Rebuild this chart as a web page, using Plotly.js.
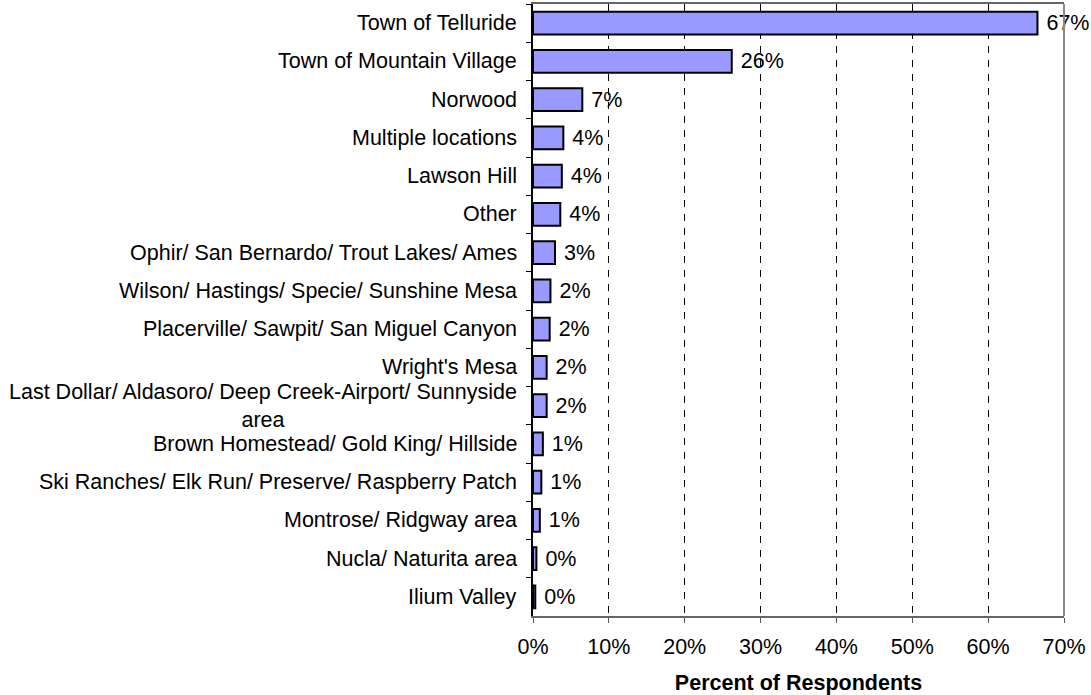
<!DOCTYPE html>
<html>
<head>
<meta charset="utf-8">
<script src="https://cdn.plot.ly/plotly-3.0.1.min.js"></script>
<style>
html,body{margin:0;padding:0;background:#fff;}
#chart{width:1091px;height:695px;}
</style>
</head>
<body>
<div id="chart"></div>
<script>
var categories = [
  "Town of Telluride",
  "Town of Mountain Village",
  "Norwood",
  "Multiple locations",
  "Lawson Hill",
  "Other",
  "Ophir/ San Bernardo/ Trout Lakes/ Ames",
  "Wilson/ Hastings/ Specie/ Sunshine Mesa",
  "Placerville/ Sawpit/ San Miguel Canyon",
  "Wright's Mesa",
  "Last Dollar/ Aldasoro/ Deep Creek-Airport/ Sunnyside<br>area",
  "Brown Homestead/ Gold King/ Hillside",
  "Ski Ranches/ Elk Run/ Preserve/ Raspberry Patch",
  "Montrose/ Ridgway area",
  "Nucla/ Naturita area",
  "Ilium Valley"
];
var values = [66.5, 26.2, 6.5, 4.0, 3.8, 3.6, 2.9, 2.3, 2.2, 1.8, 1.8, 1.3, 1.1, 0.9, 0.45, 0.3];
var valueLabels = ["67%", "26%", "7%", "4%", "4%", "4%", "3%", "2%", "2%", "2%", "2%", "1%", "1%", "1%", "0%", "0%"];
var xTickVals = [0, 10, 20, 30, 40, 50, 60, 70];
var xTickText = ["0%", "10%", "20%", "30%", "40%", "50%", "60%", "70%"];

var FONT = "Liberation Sans, Arial, sans-serif";
var FS = 21.5;

var trace = {
  type: "bar",
  orientation: "h",
  y: categories,
  x: values,
  text: valueLabels.map(function(t){ return "\u00a0" + t; }),
  textposition: "outside",
  constraintext: "none",
  cliponaxis: false,
  textfont: {family: FONT, size: FS, color: "#000"},
  marker: {color: "#9999FF", line: {color: "#000", width: 2}},
  hoverinfo: "none"
};

var annotations = categories.map(function(c){
  return {
    xref: "paper", x: 0, xanchor: "right", xshift: -14,
    yref: "y", y: c, yanchor: "middle",
    text: c, showarrow: false, align: "center",
    font: {family: FONT, size: FS, color: "#000"}
  };
});

var layout = {
  width: 1091, height: 695,
  margin: {l: 533, r: 27, t: 4, b: 79},
  paper_bgcolor: "#fff", plot_bgcolor: "#fff",
  font: {family: FONT, size: FS, color: "#000"},
  showlegend: false,
  bargap: 0.41,
  xaxis: {
    range: [0, 70],
    tickvals: xTickVals, ticktext: xTickText,
    ticks: "outside", ticklen: 5, tickcolor: "#555", tickwidth: 1,
    ticklabelstandoff: 5,
    showgrid: true, gridcolor: "#000", gridwidth: 1, griddash: "7px,7px",
    zeroline: false,
    showline: true, linecolor: "#666", linewidth: 2, mirror: true,
    tickfont: {family: FONT, size: FS, color: "#000"},
    title: {text: "<b>Percent of Respondents</b>", font: {family: FONT, size: FS, color: "#000"}, standoff: 20},
    fixedrange: true
  },
  yaxis: {
    type: "category",
    categoryorder: "array", categoryarray: categories,
    autorange: "reversed",
    showticklabels: false,
    ticks: "outside", ticklen: 5, tickcolor: "#000", tickwidth: 1,
    tickson: "boundaries",
    showgrid: false, zeroline: false,
    showline: true, linecolor: "#000", linewidth: 2,
    fixedrange: true
  },
  shapes: [{
    type: "line", xref: "paper", yref: "paper",
    x0: 1, x1: 1, y0: 0, y1: 1,
    line: {color: "#888", width: 2}
  }],
  annotations: annotations
};

Plotly.newPlot("chart", [trace], layout, {displayModeBar: false, staticPlot: true});
</script>
</body>
</html>
